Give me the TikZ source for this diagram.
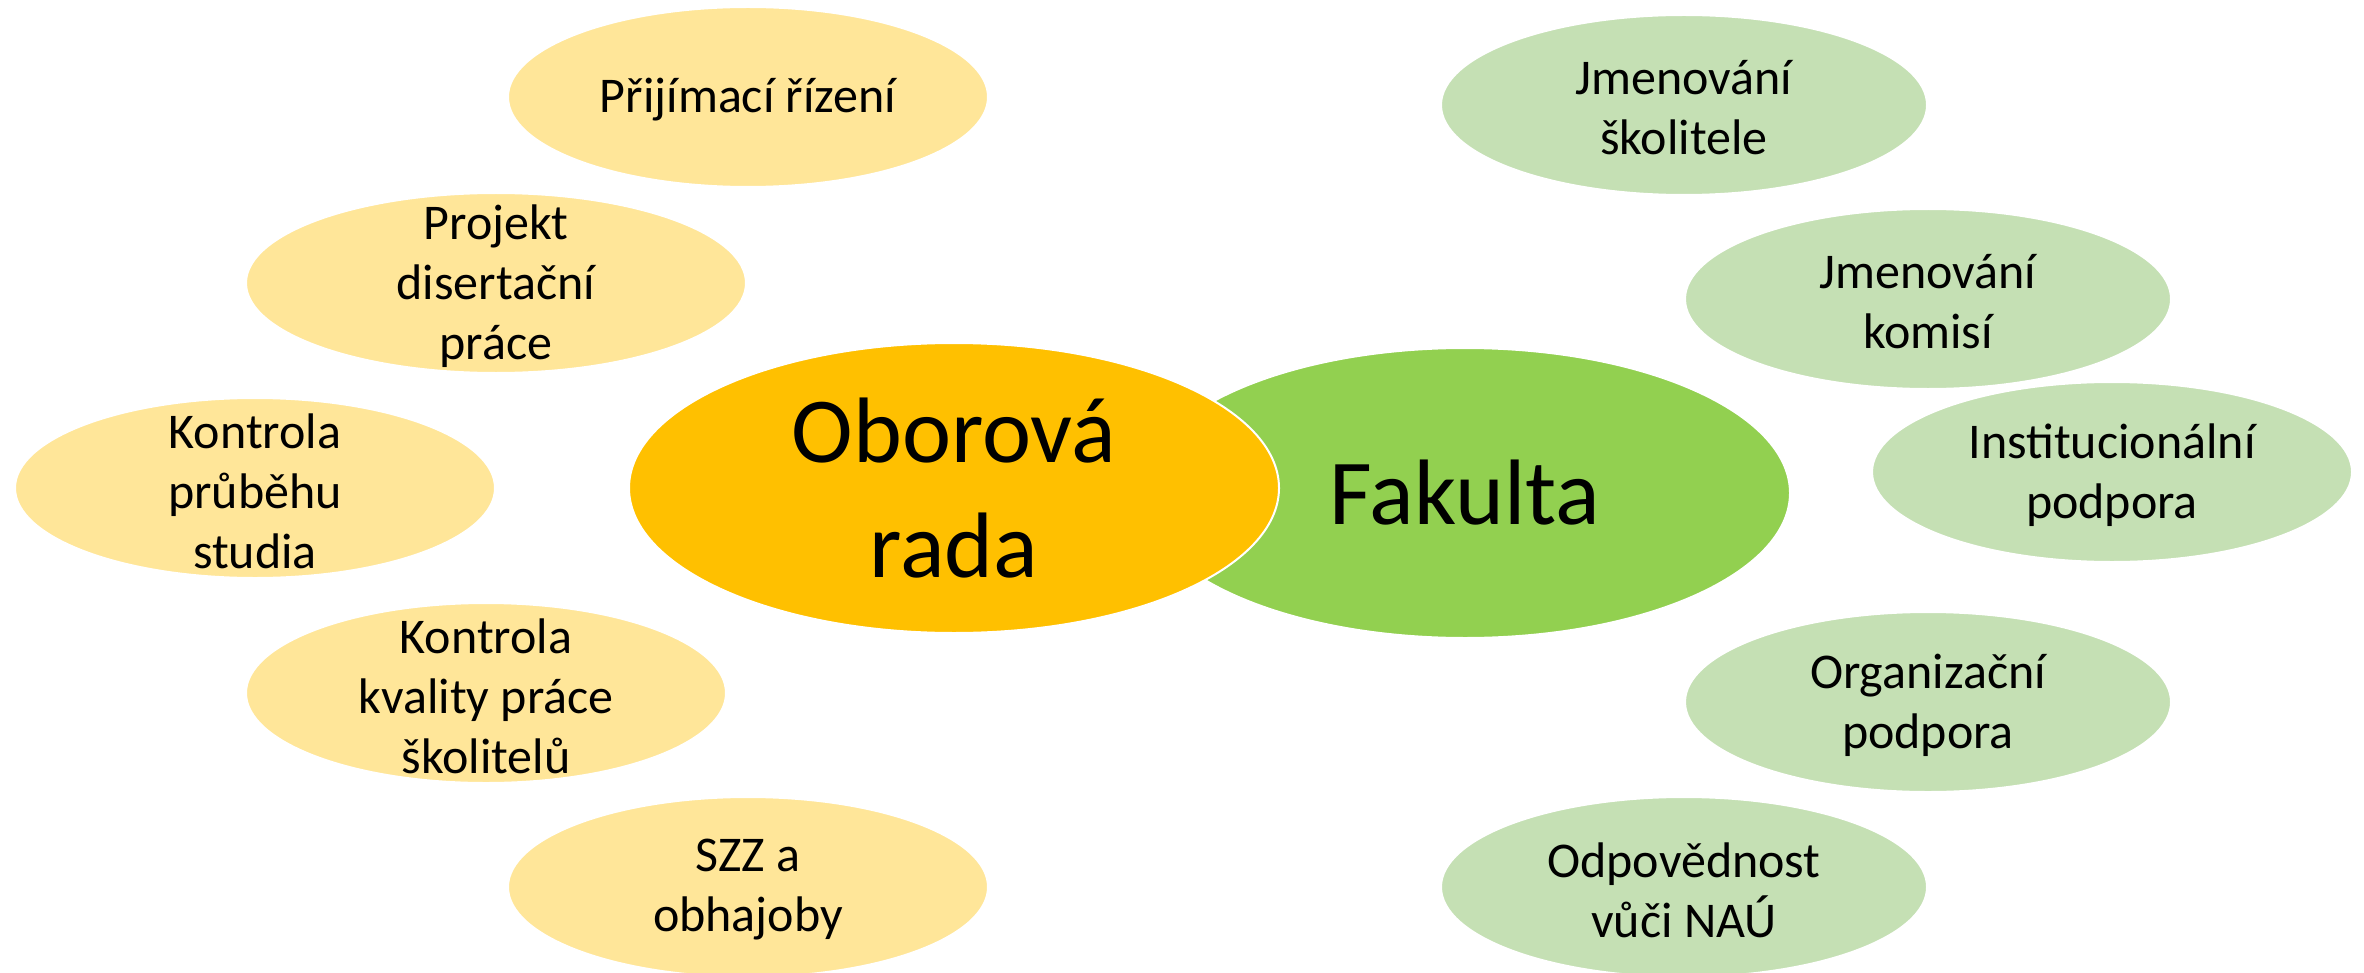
\documentclass[tikz,border=0pt]{standalone}
\usepackage{fontspec}
\setmainfont{Carlito}
\usepackage{tikz}
\usetikzlibrary{shapes, positioning}
\definecolor{radacolor}{HTML}{FFC000}
\definecolor{fakultacolor}{HTML}{92D050}
\definecolor{radalight}{HTML}{FFE699}
\definecolor{fakultalight}{HTML}{C5E0B4}
\tikzset{
    bignode/.style = {draw=white, line width=1pt, ellipse, inner sep=0em, 
      minimum width=325pt, minimum height=145pt},
    radanode/.style = {draw=white, line width=1pt, ellipse, inner sep=0em, fill=radalight, 
      minimum width=240pt, minimum height=90pt},
    fakultanode/.style = {draw=white, line width=1pt, ellipse, inner sep=0em, fill=fakultalight, 
      minimum width=243pt, minimum height=90pt},
    bigtextnode/.style = {draw=none, fill=none, inner sep=0em, align=center, 
      font=\fontsize{46.5}{57.5}\selectfont},
    textnode/.style  = {draw=none, fill=none, inner sep=0em, align=center, yshift=-1.5pt, 
      font=\fontsize{25}{30}\selectfont}
}
\begin{document}
\begin{tikzpicture}[x=0.5pt, y=-0.5pt]
    \useasboundingbox (0,0) rectangle (2364,973);

    \node [name=fakulta, bignode, fill=fakultacolor] at (1465,493) {}; 
    \node [name=rada, bignode, fill=radacolor] at (954,488) {}; 
    \node [name=fakultatext, bigtextnode] at (fakulta) {Fakulta}; 
    \node [name=radatext, bigtextnode] at (rada) {Oborová\\rada}; 

    \node [name=prij, radanode] at (748,97) {}; 
    \node [name=projekt, radanode, minimum width=250pt] at (496,283) {}; 
    \node [name=prubeh, radanode] at (255,488) {}; 
    \node [name=kvalita, radanode] at (486,693) {}; 
    \node [name=szz, radanode] at (748,887) {}; 
    \node [name=prijtext, textnode] at (prij) {Přijímací řízení}; 
    \node [name=projekttext, textnode] at (projekt) {Projekt\\disertační\\práce}; 
    \node [name=prubehtext, textnode] at (prubeh) {Kontrola\\průběhu\\studia}; 
    \node [name=kvalitatext, textnode] at (kvalita) {Kontrola\\kvality práce\\školitelů}; 
    \node [name=szztext, textnode] at (szz) {SZZ a\\obhajoby}; 

    \node [name=skolitel, fakultanode] at (1684,105) {}; 
    \node [name=komise, fakultanode] at (1928,299) {}; 
    \node [name=instit, fakultanode, minimum width=240pt] at (2112,472) {}; 
    \node [name=organiz, fakultanode] at (1928,702) {}; 
    \node [name=nau, fakultanode] at (1684,887) {}; 
    \node [name=skoliteltext, textnode] at (skolitel) {Jmenování\\školitele}; 
    \node [name=komisetext, textnode] at (komise) {Jmenování\\komisí}; 
    \node [name=instittext, textnode] at (instit) {Institucionální\\podpora}; 
    \node [name=organiztext, textnode] at (organiz) {Organizační\\podpora}; 
    \node [name=nautext, textnode] at (nau) {Odpovědnost\\vůči NAÚ}; 
\end{tikzpicture}
\end{document}
